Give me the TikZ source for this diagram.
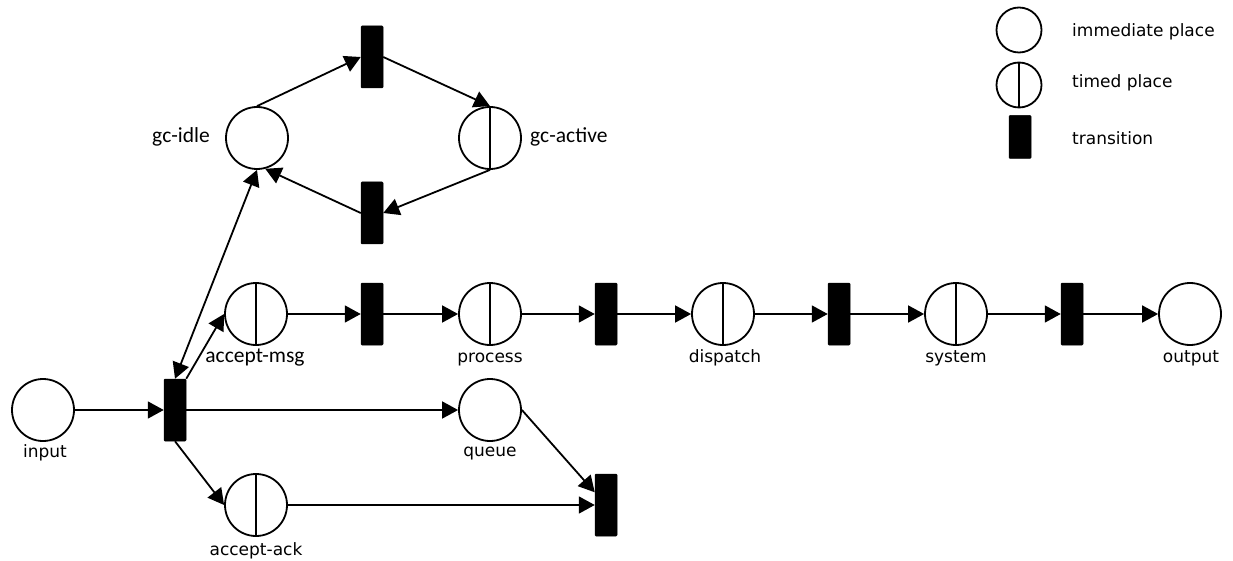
\documentclass[tikz,border=0pt]{standalone}
\usepackage{fontspec}
\setmainfont{DejaVu Sans}
\newfontfamily\carl{Carlito}
\usetikzlibrary{arrows.meta}
\begin{document}
\begin{tikzpicture}[x=1pt,y=-1pt,
  place/.style={circle,draw,line width=1.8pt,minimum size=62pt,inner sep=0pt},
  timed/.style={place,path picture={\draw[line width=1.8pt] (path picture bounding box.north) -- (path picture bounding box.south);}},
  trans/.style={rectangle,fill=black,draw=black,line width=0.5pt,rounded corners=1pt,minimum width=22pt,minimum height=62pt,inner sep=0pt},
  lab/.style={anchor=base,inner sep=0pt,font=\fontsize{17}{20}\selectfont},
  clab/.style={anchor=base,inner sep=0pt,font=\carl\fontsize{21.5}{24}\selectfont},
  arc/.style={line width=1.8pt,-{Triangle[length=16pt,width=17pt]}},
  barc/.style={line width=1.8pt,{Triangle[length=16pt,width=17pt]}-{Triangle[length=16pt,width=17pt]}},
  lplace/.style={place,minimum size=45pt},
  ltimed/.style={timed,minimum size=45pt},
  ltrans/.style={trans,minimum height=43pt}
]
\useasboundingbox (0,0) rectangle (1233,561);
% places
\node[place] (in) at (43,410) {};
\node[place] (gi) at (257,138) {};
\node[timed] (ga) at (490,138) {};
\node[timed] (am) at (256,314) {};
\node[timed] (pr) at (490,314) {};
\node[timed] (di) at (723,314) {};
\node[timed] (sy) at (956,314) {};
\node[place] (out) at (1190,314) {};
\node[place] (qu) at (490,410) {};
\node[timed] (aa) at (256,505) {};
% transitions
\node[trans] (t0) at (175,410) {};
\node[trans] (tt) at (372,57) {};
\node[trans] (tb) at (372,213) {};
\node[trans] (t1) at (372,314) {};
\node[trans] (t2) at (606,314) {};
\node[trans] (t3) at (839,314) {};
\node[trans] (t4) at (1072,314) {};
\node[trans] (t5) at (606,505) {};
% labels
\node[lab] (lin) at (45,457) {input};
\node[clab] (lgi) at (181,143) {gc-idle};
\node[clab,anchor=base west] (lga) at (530,143) {gc-active};
\node[clab] (lam) at (255,362) {accept-msg};
\node[lab] (lpr) at (490,362) {process};
\node[lab] (ldi) at (725,362) {dispatch};
\node[lab] (lsy) at (956,362) {system};
\node[lab] (lout) at (1191,362) {output};
\node[lab] (lqu) at (490,456) {queue};
\node[lab] (laa) at (256,555) {accept-ack};
% arcs
\draw[arc] (in.east) -- (t0.west);
\draw[arc] (t0.east) -- (qu.west);
\draw[arc] (t0.north east) -- (am.west);
\draw[arc] (t0.south) -- (aa.west);
\draw[barc] (t0.north) -- (gi.south);
\draw[arc] (gi.north) -- (tt.west);
\draw[arc] (tt.east) -- (ga.north);
\draw[arc] (ga.south) -- (tb.east);
\draw[arc] (tb.west) -- (gi.-75);
\draw[arc] (am.east) -- (t1.west);
\draw[arc] (t1.east) -- (pr.west);
\draw[arc] (pr.east) -- (t2.west);
\draw[arc] (t2.east) -- (di.west);
\draw[arc] (di.east) -- (t3.west);
\draw[arc] (t3.east) -- (sy.west);
\draw[arc] (sy.east) -- (t4.west);
\draw[arc] (t4.east) -- (out.west);
\draw[arc] (aa.east) -- (t5.west);
\draw[arc] (qu.east) -- (t5);
% legend
\node[lplace] (k1) at (1019,30) {};
\node[ltimed] (k2) at (1019,85) {};
\node[ltrans] (k3) at (1020,137) {};
\node[lab,anchor=base west] (kl1) at (1072,37) {immediate place};
\node[lab,anchor=base west] (kl2) at (1072,88) {timed place};
\node[lab,anchor=base west] (kl3) at (1072,145) {transition};
\end{tikzpicture}
\end{document}
